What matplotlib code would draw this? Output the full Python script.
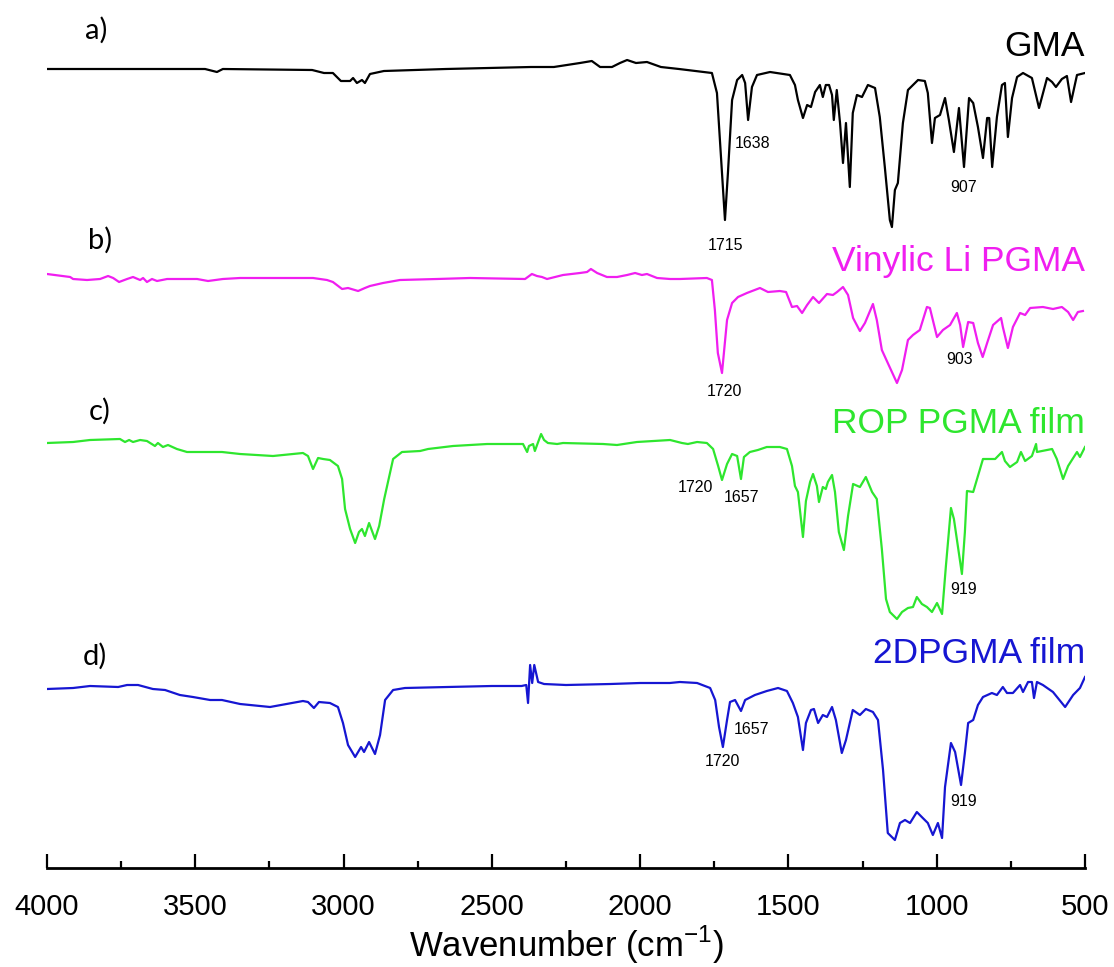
import matplotlib
matplotlib.use("Agg")
import matplotlib.pyplot as plt
from matplotlib.ticker import MultipleLocator

plt.rcParams['font.family'] = ['Liberation Sans', 'DejaVu Sans']
plt.rcParams['mathtext.fontset'] = 'custom'
plt.rcParams['mathtext.rm'] = 'Liberation Sans'

# FTIR spectra, (wavenumber cm-1, relative transmittance a.u.)
gma = [(4000, 0), (3700, 0), (3467, 0), (3427, -3), (3407, 0), (3106, -1), (3066, -4),
       (3036, -4), (3009, -12), (2978, -12), (2968, -9), (2955, -14), (2938, -11),
       (2928, -14), (2911, -5), (2864, -2), (2655, 0), (2368, 2), (2291, 2), (2203, 6),
       (2163, 8), (2135, 2), (2095, 2), (2068, 6), (2044, 9), (2014, 6), (1977, 7),
       (1930, 2), (1869, 0), (1758, -4), (1741, -24), (1724, -104), (1714, -151),
       (1704, -104), (1690, -31), (1673, -11), (1656, -6), (1646, -14), (1636, -51),
       (1623, -18), (1606, -6), (1562, -3), (1495, -6), (1478, -16), (1468, -31),
       (1451, -49), (1437, -36), (1424, -38), (1410, -23), (1394, -16), (1384, -28),
       (1374, -16), (1363, -16), (1353, -26), (1347, -51), (1337, -21), (1326, -54),
       (1316, -94), (1306, -54), (1293, -118), (1283, -44), (1269, -26), (1252, -28),
       (1232, -16), (1208, -19), (1192, -48), (1175, -98), (1158, -151), (1151, -158),
       (1141, -121), (1131, -114), (1114, -54), (1097, -21), (1080, -16), (1063, -11),
       (1040, -12), (1030, -24), (1016, -74), (1006, -49), (989, -46), (972, -29),
       (959, -51), (942, -83), (925, -39), (908, -98), (891, -29), (877, -34),
       (861, -58), (844, -89), (830, -49), (823, -49), (813, -98), (797, -48),
       (780, -16), (770, -14), (760, -68), (746, -29), (729, -8), (709, -4), (679, -9),
       (655, -39), (628, -9), (611, -13), (598, -18), (578, -10), (561, -7), (547, -33),
       (527, -6), (500, -4)]

vinylic = [(4000, 5), (3922, 2), (3912, 0), (3865, -1), (3821, 0), (3794, 3), (3777, 1),
           (3757, -3), (3730, 0), (3710, 2), (3686, -1), (3676, 1), (3663, -3), (3646, 0),
           (3629, -2), (3595, 0), (3552, 0), (3494, 0), (3457, -2), (3407, 0), (3349, 1),
           (3238, 1), (3103, 1), (3056, -1), (3036, -3), (3005, -10), (2985, -9),
           (2951, -12), (2928, -9), (2911, -7), (2867, -4), (2810, -1), (2685, 0),
           (2574, 1), (2388, 0), (2365, 5), (2348, 3), (2331, 2), (2314, 0), (2260, 4),
           (2203, 6), (2179, 7), (2166, 10), (2145, 6), (2112, 2), (2078, 2), (2044, 4),
           (2017, 6), (1994, 4), (1977, 5), (1943, 1), (1899, 0), (1866, 0), (1775, 1),
           (1758, -1), (1748, -31), (1738, -74), (1724, -94), (1707, -41), (1690, -24),
           (1670, -18), (1640, -14), (1596, -9), (1569, -13), (1529, -12), (1508, -13),
           (1488, -28), (1471, -27), (1454, -34), (1437, -26), (1417, -18), (1397, -24),
           (1370, -15), (1350, -16), (1336, -13), (1316, -8), (1299, -16), (1282, -39),
           (1259, -52), (1242, -44), (1215, -25), (1202, -41), (1185, -71), (1165, -84),
           (1134, -104), (1117, -91), (1097, -61), (1080, -56), (1057, -51), (1033, -28),
           (1023, -29), (999, -58), (979, -51), (955, -46), (932, -34), (921, -46),
           (911, -68), (894, -43), (877, -44), (861, -64), (845, -78), (830, -64),
           (810, -46), (783, -39), (777, -48), (760, -69), (743, -48), (719, -34),
           (702, -36), (685, -29), (642, -28), (608, -30), (578, -28), (557, -33),
           (540, -41), (524, -33), (507, -32)]

rop_film = [(4000, -1), (3912, 0), (3855, 2), (3754, 3), (3737, 0), (3723, 2), (3710, 0),
            (3686, 2), (3663, 1), (3636, -4), (3626, -1), (3609, -5), (3592, -3),
            (3562, -7), (3528, -10), (3461, -10), (3410, -10), (3349, -12), (3238, -14),
            (3137, -11), (3120, -14), (3103, -27), (3086, -16), (3069, -17), (3046, -18),
            (3019, -24), (3005, -37), (2995, -67), (2978, -87), (2961, -101), (2948, -90),
            (2938, -87), (2928, -94), (2914, -81), (2894, -97), (2880, -84), (2863, -57),
            (2833, -17), (2803, -10), (2742, -9), (2715, -7), (2631, -4), (2516, -2),
            (2395, -2), (2381, -10), (2375, -4), (2361, -2), (2355, -9), (2334, 8),
            (2324, 2), (2311, -1), (2280, -2), (2260, -1), (2125, -2), (2078, -3),
            (2011, 0), (1899, 2), (1859, -1), (1839, -2), (1808, 0), (1775, -1),
            (1754, -7), (1737, -24), (1724, -38), (1707, -22), (1690, -12), (1673, -14),
            (1660, -37), (1650, -15), (1630, -10), (1603, -8), (1573, -5), (1529, -5),
            (1505, -7), (1488, -24), (1478, -44), (1468, -50), (1451, -95), (1441, -59),
            (1427, -40), (1417, -32), (1404, -44), (1397, -60), (1384, -45), (1374, -47),
            (1367, -40), (1353, -33), (1343, -50), (1330, -90), (1313, -108), (1299, -74),
            (1282, -42), (1259, -45), (1239, -35), (1218, -50), (1202, -57), (1185, -107),
            (1171, -157), (1158, -170), (1134, -177), (1117, -170), (1097, -166),
            (1080, -165), (1067, -155), (1050, -162), (1033, -165), (1016, -170),
            (999, -161), (982, -172), (969, -124), (952, -66), (942, -77), (915, -132),
            (905, -90), (898, -49), (877, -50), (864, -37), (844, -17), (803, -17),
            (780, -10), (770, -19), (753, -25), (729, -20), (716, -10), (702, -19),
            (679, -14), (665, -2), (662, -10), (645, -9), (611, -7), (595, -17),
            (574, -37), (557, -24), (527, -10), (517, -15), (500, -5)]

film_2d = [(4000, 0), (3912, 1), (3855, 3), (3760, 2), (3730, 4), (3693, 4), (3643, 0),
           (3602, -1), (3552, -6), (3508, -8), (3450, -11), (3410, -11), (3349, -15),
           (3248, -18), (3137, -12), (3120, -13), (3100, -19), (3083, -13), (3046, -14),
           (3019, -18), (3002, -34), (2985, -56), (2961, -68), (2941, -58), (2931, -63),
           (2914, -53), (2894, -65), (2877, -46), (2860, -11), (2833, -1), (2793, 1),
           (2650, 2), (2500, 3), (2400, 3), (2384, 4), (2378, -14), (2371, 24),
           (2364, 6), (2357, 24), (2344, 7), (2324, 5), (2250, 4), (2100, 5), (2000, 6),
           (1900, 6), (1866, 7), (1808, 6), (1764, 1), (1747, -11), (1734, -38),
           (1721, -58), (1707, -31), (1697, -13), (1680, -11), (1660, -22), (1646, -11),
           (1613, -6), (1573, -2), (1535, 1), (1505, -2), (1485, -14), (1468, -28),
           (1451, -61), (1441, -34), (1424, -21), (1414, -20), (1400, -34), (1384, -26),
           (1370, -28), (1353, -18), (1340, -31), (1320, -64), (1306, -51), (1283, -21),
           (1259, -26), (1239, -20), (1215, -23), (1198, -31), (1181, -81), (1165, -144),
           (1141, -151), (1124, -134), (1107, -131), (1090, -134), (1067, -123),
           (1047, -129), (1030, -134), (1013, -146), (996, -134), (982, -149), (972, -98),
           (952, -54), (938, -63), (918, -96), (905, -64), (894, -34), (877, -31),
           (861, -16), (844, -8), (814, -4), (797, -6), (777, 2), (763, -4), (743, -4),
           (719, 4), (709, -3), (692, 7), (679, 7), (672, -9), (662, 7), (642, 4),
           (608, -3), (567, -18), (540, -6), (517, 1), (500, 12)]

spectra = [gma, vinylic, rop_film, film_2d]
names = ["GMA", "Vinylic Li PGMA", "ROP PGMA film", "2DPGMA film"]
letters = ["a)", "b)", "c)", "d)"]
colors = ["black", "#f01ef0", "#2ee62e", "#1616d2"]
offsets = [799, 589, 426, 179]
name_y = [812, 597, 435, 205]
letter_pos = [(3835, 838), (3821, 628), (3821, 457), (3838, 212)]

# peak annotations: (trace index, label, wavenumber, y)
peaks = [(0, "1715", 1712, 622), (0, "1638", 1620, 725), (0, "907", 911, 680),
         (1, "1720", 1717, 476), (1, "903", 924, 508),
         (2, "1720", 1812, 380), (2, "1657", 1657, 371), (2, "919", 911, 279),
         (3, "1720", 1721, 106), (3, "1657", 1626, 139), (3, "919", 911, 66)]

fig = plt.figure(figsize=(11.14, 9.67), dpi=100)
ax = fig.add_axes([47 / 1114, 99 / 967, 1038 / 1114, 868 / 967])

for spec, off, col in zip(spectra, offsets, colors):
    wn = [p[0] for p in spec]
    t = [p[1] + off for p in spec]
    ax.plot(wn, t, color=col, lw=1.6, solid_joinstyle='round')

for name, y, col in zip(names, name_y, colors):
    ax.text(500, y, name, color=col, fontsize=25.5, ha='right', va='baseline')

for let, (x, y) in zip(letters, letter_pos):
    ax.text(x, y, let, fontsize=21, ha='center', va='center', family=['Lato', 'DejaVu Sans'])

for i, lab, x, y in peaks:
    ax.text(x, y, lab, fontsize=11.5, ha='center', va='center')

ax.set_xlim(4000, 500)
ax.set_ylim(0, 868)
for s in ['left', 'right', 'top']:
    ax.spines[s].set_visible(False)
ax.spines['bottom'].set_linewidth(2)
ax.set_yticks([])
ax.xaxis.set_major_locator(MultipleLocator(500))
ax.xaxis.set_minor_locator(MultipleLocator(250))
ax.tick_params(axis='x', which='major', direction='in', length=10, width=1.6,
               labelsize=21, pad=18)
ax.tick_params(axis='x', which='minor', direction='in', length=5, width=1.6)
ax.set_xlabel("Wavenumber (cm$^{\\mathrm{-1}}$)", fontsize=25, labelpad=2)

fig.savefig("out.png", dpi=100)
